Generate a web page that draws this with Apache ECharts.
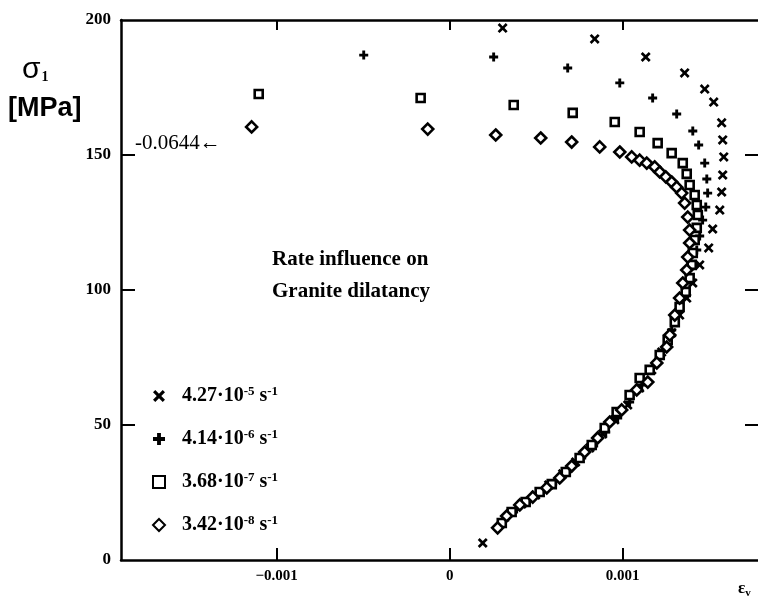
<!DOCTYPE html>
<html>
<head>
<meta charset="utf-8">
<script src="https://cdn.jsdelivr.net/npm/echarts@6/dist/echarts.min.js"></script>
<style>
html,body{margin:0;padding:0;background:#fff;}
#chart{width:758px;height:601px;}
</style>
</head>
<body>
<div id="chart"></div>
<script>
// ---- data (x = volumetric strain, y = sigma_1 in MPa) ----
const seriesNames = ['r1', 'r2', 'r3', 'r4'];
const legendLabels = [
  ['4.27', '-5'],
  ['4.14', '-6'],
  ['3.68', '-7'],
  ['3.42', '-8']
];

const crossX = [0.000306, 0.000838, 0.001133, 0.001358, 0.001474, 0.001526, 0.001572, 0.001578, 0.001584, 0.001578, 0.001572, 0.001561, 0.001520, 0.001497, 0.001445, 0.001405, 0.001370, 0.001329, 0.001283, 0.001225, 0.001168, 0.001098, 0.001029, 0.000954, 0.000884, 0.000809, 0.000728, 0.000653, 0.000572, 0.000497, 0.000416, 0.000191];
const crossY = [197.0, 193.0, 186.3, 180.4, 174.4, 169.6, 161.9, 155.6, 149.3, 142.6, 136.3, 129.6, 122.6, 115.6, 109.3, 102.6, 97.0, 90.7, 84.1, 77.0, 70.4, 63.7, 57.4, 51.9, 46.7, 41.5, 36.3, 31.9, 27.8, 24.1, 20.7, 6.3];

const plusX = [-0.000497, 0.000254, 0.000682, 0.000983, 0.001173, 0.001312, 0.001405, 0.001439, 0.001474, 0.001486, 0.001491, 0.001480, 0.001462, 0.001445, 0.001428, 0.001410, 0.001387, 0.001358, 0.001324, 0.001283, 0.001231, 0.001173, 0.001110, 0.001040, 0.000971, 0.000902, 0.000832, 0.000763, 0.000688, 0.000613, 0.000538, 0.000462, 0.000387, 0.000318];
const plusY = [187.0, 186.3, 182.2, 176.7, 171.1, 165.2, 158.9, 153.7, 147.0, 141.1, 135.9, 130.7, 125.9, 120.0, 114.8, 109.3, 103.7, 97.8, 91.9, 85.2, 77.8, 71.5, 64.8, 58.5, 52.6, 47.4, 42.2, 37.8, 33.3, 29.3, 25.6, 22.2, 18.9, 14.8];

const squareX = [-0.001104, -0.000168, 0.000370, 0.000711, 0.000954, 0.001098, 0.001202, 0.001283, 0.001347, 0.001370, 0.001387, 0.001416, 0.001428, 0.001434, 0.001428, 0.001416, 0.001405, 0.001399, 0.001387, 0.001364, 0.001329, 0.001301, 0.001260, 0.001214, 0.001156, 0.001098, 0.001040, 0.000965, 0.000896, 0.000821, 0.000751, 0.000671, 0.000590, 0.000520, 0.000439, 0.000358, 0.000301];
const squareY = [172.6, 171.1, 168.5, 165.6, 162.2, 158.5, 154.4, 150.7, 147.0, 143.0, 138.9, 135.2, 131.5, 127.8, 123.0, 118.5, 113.7, 109.3, 104.4, 99.3, 93.7, 88.1, 81.5, 75.9, 70.4, 67.4, 61.1, 54.8, 48.9, 42.6, 37.8, 32.6, 28.1, 25.2, 21.5, 17.8, 13.7];

const diamondX = [-0.001145, -0.000127, 0.000266, 0.000526, 0.000705, 0.000867, 0.000983, 0.001052, 0.001098, 0.001139, 0.001185, 0.001214, 0.001249, 0.001283, 0.001312, 0.001341, 0.001358, 0.001376, 0.001387, 0.001387, 0.001376, 0.001370, 0.001347, 0.001329, 0.001301, 0.001272, 0.001254, 0.001197, 0.001145, 0.001081, 0.000994, 0.000925, 0.000855, 0.000780, 0.000705, 0.000636, 0.000561, 0.000480, 0.000405, 0.000329, 0.000277];
const diamondY = [160.4, 159.6, 157.4, 156.3, 154.8, 153.0, 151.1, 149.3, 148.1, 147.0, 145.6, 143.7, 141.9, 140.0, 138.1, 135.9, 132.2, 127.0, 122.2, 117.4, 112.2, 107.4, 102.6, 97.0, 90.7, 83.3, 78.9, 73.0, 65.9, 63.0, 55.6, 51.1, 45.2, 40.0, 34.8, 30.4, 26.7, 23.3, 20.4, 16.3, 11.9];

const xTicks = [-0.001, 0, 0.001];
const xTickLabels = ['\u22120.001', '0', '0.001'];
const yTicks = [0, 50, 100, 150, 200];

// ---- chart ----
function pairs(xs, ys) { return xs.map((x, i) => [x, ys[i]]); }

const crossPath = 'path://M0,1.9L1.9,0L5,3.1L8.1,0L10,1.9L6.9,5L10,8.1L8.1,10L5,6.9L1.9,10L0,8.1L3.1,5Z';
const plusPath = 'path://M3.4,0H6.6V3.4H10V6.6H6.6V10H3.4V6.6H0V3.4H3.4Z';

const serif = '"Liberation Serif", "DejaVu Serif", serif';
const sans = '"Liberation Sans", Arial, sans-serif';

const chart = echarts.init(document.getElementById('chart'), null, { renderer: 'canvas' });

const xMin = -0.0019, xMax = 0.001782;

const axisLineStyle = { color: '#000', width: 2.5 };

const option = {
  animation: false,
  backgroundColor: '#fff',
  grid: { left: 121, top: 20, right: 0, bottom: 41, containLabel: false },
  xAxis: [
    {
      type: 'value', position: 'bottom', min: xMin, max: xMax,
      axisLine: { onZero: false, lineStyle: axisLineStyle },
      axisTick: { show: true, inside: true, length: 12, customValues: xTicks, lineStyle: { color: '#000', width: 2 } },
      axisLabel: {
        customValues: xTicks, margin: 9,
        formatter: v => xTickLabels[xTicks.findIndex(t => Math.abs(t - v) < 1e-9)],
        fontFamily: serif, fontWeight: 'bold', fontSize: 15, color: '#000'
      },
      splitLine: { show: false }
    },
    {
      type: 'value', position: 'top', min: xMin, max: xMax,
      axisLine: { onZero: false, lineStyle: axisLineStyle },
      axisTick: { show: true, inside: true, length: 10, customValues: xTicks, lineStyle: { color: '#000', width: 2 } },
      axisLabel: { show: false },
      splitLine: { show: false }
    }
  ],
  yAxis: [
    {
      type: 'value', position: 'left', min: 0, max: 200, interval: 50,
      axisLine: { onZero: false, lineStyle: axisLineStyle },
      axisTick: { show: true, inside: true, length: 14, customValues: [50, 100, 150], lineStyle: { color: '#000', width: 2 } },
      axisLabel: { margin: 10, fontFamily: serif, fontWeight: 'bold', fontSize: 17, color: '#000' },
      splitLine: { show: false }
    },
    {
      type: 'value', position: 'right', min: 0, max: 200, interval: 50,
      axisLine: { onZero: false, lineStyle: { color: '#000', width: 1 } },
      axisTick: { show: true, inside: true, length: 13, customValues: [50, 100, 150], lineStyle: { color: '#000', width: 2 } },
      axisLabel: { show: false },
      splitLine: { show: false }
    }
  ],
  legend: {
    orient: 'vertical', left: 147, top: 380, itemGap: 21,
    itemWidth: 12, itemHeight: 12,
    data: seriesNames,
    formatter: name => {
      const l = legendLabels[seriesNames.indexOf(name)];
      return '{f|' + l[0] + '\u00b710}{s|' + l[1] + '}{t| s}{s|-1}';
    },
    textStyle: {
      color: '#000',
      rich: {
        f: { fontFamily: serif, fontSize: 20, fontWeight: 'bold', color: '#000', lineHeight: 22, padding: [0, 0, 0, 12] },
        t: { fontFamily: serif, fontSize: 20, fontWeight: 'bold', color: '#000', lineHeight: 22 },
        s: { fontFamily: serif, fontSize: 13, fontWeight: 'bold', color: '#000', lineHeight: 22, verticalAlign: 'top', padding: [0, 0, 9, 0] }
      }
    }
  },
  graphic: [
    { type: 'text', left: 22, top: 55, style: { text: '{a|σ}{b|1}', rich: { a: { fontFamily: sans, fontSize: 30, fill: '#000' }, b: { fontFamily: serif, fontSize: 14, fontWeight: 'bold', fill: '#000', padding: [14, 0, 0, 1] } } } },
    { type: 'text', left: 8, top: 95, style: { text: '[MPa]', fontFamily: sans, fontWeight: 'bold', fontSize: 27, fill: '#000' } },
    { type: 'text', left: 135, top: 133, style: { text: '-0.0644\u2190', fontFamily: serif, fontSize: 21, fill: '#000' } },
    { type: 'text', left: 272, top: 244, style: { text: 'Rate influence on\nGranite dilatancy', fontFamily: serif, fontWeight: 'bold', fontSize: 21, lineHeight: 32, fill: '#000' } },
    { type: 'text', left: 738, top: 580, style: { text: '{a|ε}{b|v}', rich: { a: { fontFamily: serif, fontSize: 17, fontWeight: 'bold', fill: '#000' }, b: { fontFamily: serif, fontSize: 11, fontWeight: 'bold', fill: '#000', padding: [9, 0, 0, 0] } } } }
  ],
  series: [
    { name: 'r1', type: 'scatter', symbol: crossPath, symbolSize: 10, data: pairs(crossX, crossY), itemStyle: { color: '#000', opacity: 1 } },
    { name: 'r2', type: 'scatter', symbol: plusPath, symbolSize: 9, data: pairs(plusX, plusY), itemStyle: { color: '#000', opacity: 1 } },
    { name: 'r3', type: 'scatter', symbol: 'rect', symbolSize: 8, data: pairs(squareX, squareY), itemStyle: { color: '#fff', borderColor: '#000', borderWidth: 2.6, opacity: 1 } },
    { name: 'r4', type: 'scatter', symbol: 'diamond', symbolSize: 11, data: pairs(diamondX, diamondY), itemStyle: { color: '#fff', borderColor: '#000', borderWidth: 2.6, opacity: 1 } }
  ]
};
chart.setOption(option);
</script>
</body>
</html>
